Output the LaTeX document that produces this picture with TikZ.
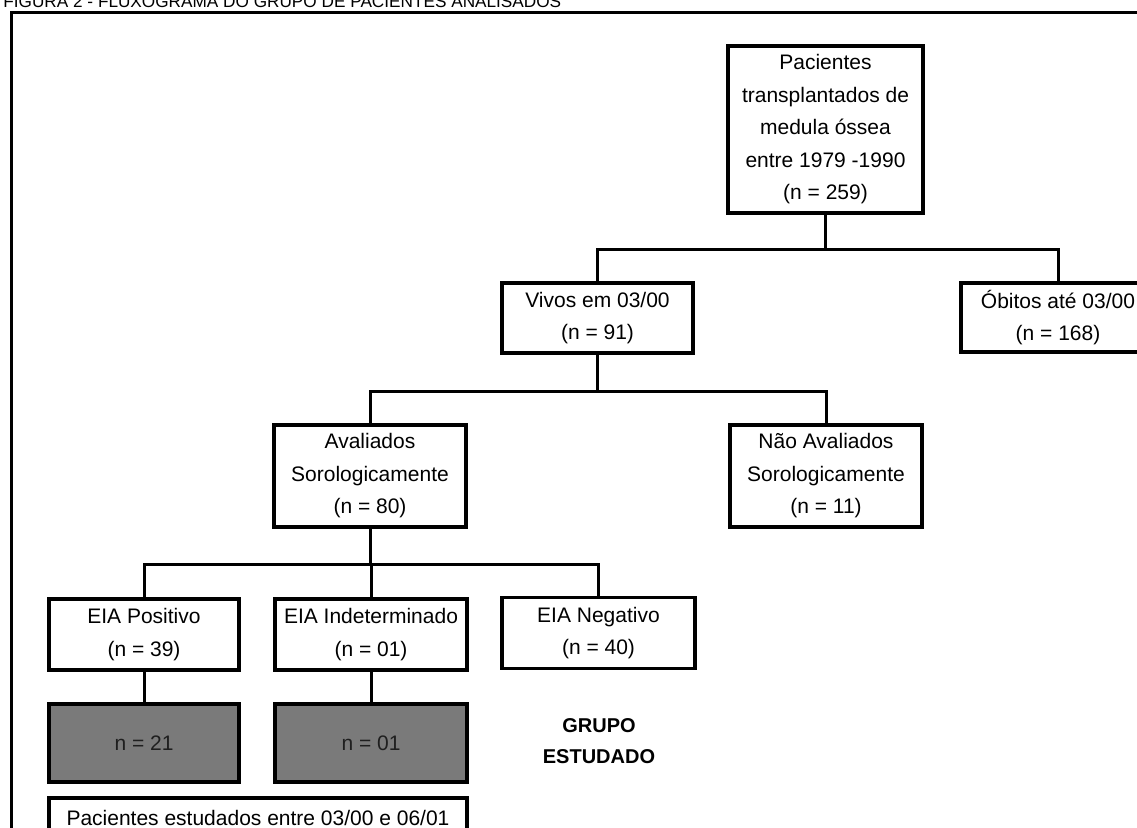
\documentclass[tikz,border=0pt]{standalone}
\usepackage{fontspec}
\setmainfont{Liberation Sans}
\begin{document}
\begin{tikzpicture}[x=0.5pt,y=-0.5pt,
  box/.style={draw=black,line width=1.8pt,fill=white,align=center,inner sep=0pt,
    font=\fontsize{10.5pt}{16.25pt}\selectfont},
  graybox/.style={box,fill=black!52,text=black!88},
  link/.style={line width=1.5pt},
  frame/.style={line width=1.5pt}]
\useasboundingbox (0,0) rectangle (1137,827);
\clip (0,0) rectangle (1137,827);
\node[anchor=base west,inner sep=0pt,font=\fontsize{8.6pt}{10pt}\selectfont] (title) at (3,7)
  {FIGURA 2 - FLUXOGRAMA DO GRUPO DE PACIENTES ANALISADOS};
\draw[frame] (11,12) rectangle (1170,870);

\node[box,minimum width=97.5pt,minimum height=83.5pt] (top) at (825.5,129.5)
  {Pacientes\\transplantados de\\medula óssea\\entre 1979 -1990\\(n = 259)};
\node[box,minimum width=95.5pt,minimum height=35pt] (vivos) at (597.5,318)
  {Vivos em 03/00\\(n = 91)};
\node[box,minimum width=97pt,minimum height=34.5pt] (obitos) at (1058,317.5)
  {Óbitos até 03/00\\(n = 168)};
\node[box,minimum width=96pt,minimum height=51pt] (aval) at (370,476)
  {Avaliados\\Sorologicamente\\(n = 80)};
\node[box,minimum width=96pt,minimum height=51pt] (naoaval) at (826,476)
  {Não Avaliados\\Sorologicamente\\(n = 11)};
\node[box,minimum width=95pt,minimum height=35.5pt] (pos) at (144,634.5)
  {EIA Positivo\\(n = 39)};
\node[box,minimum width=96pt,minimum height=35.5pt] (ind) at (371,634.5)
  {EIA Indeterminado\\(n = 01)};
\node[box,minimum width=96.5pt,minimum height=35.5pt] (neg) at (598.5,633)
  {EIA Negativo\\(n = 40)};
\node[graybox,minimum width=95pt,minimum height=39pt] (gray1) at (144,743) {n = 21};
\node[graybox,minimum width=96pt,minimum height=39pt] (gray2) at (371,743) {n = 01};
\node[box,minimum width=209pt,minimum height=20pt] (estud) at (258,818)
  {Pacientes estudados entre 03/00 e 06/01};
\node[align=center,inner sep=0pt,font=\bfseries\fontsize{10pt}{15.5pt}\selectfont] (grupo) at (599,741)
  {GRUPO\\ESTUDADO};

\draw[link] (top.south) -- ++(0,35) coordinate (j1) -| (vivos.north);
\draw[link] (j1) -| (obitos.north);
\draw[link] (vivos.south) -- ++(0,37) coordinate (j2) -| (aval.north);
\draw[link] (j2) -| (naoaval.north);
\draw[link] (aval.south) -- ++(0,36) coordinate (j3) -| (pos.north);
\draw[link] (j3) -| (neg.north);
\draw[link] (j3) -| (ind.north);
\draw[link] (pos.south) -- (gray1.north);
\draw[link] (ind.south) -- (gray2.north);
\end{tikzpicture}
\end{document}
